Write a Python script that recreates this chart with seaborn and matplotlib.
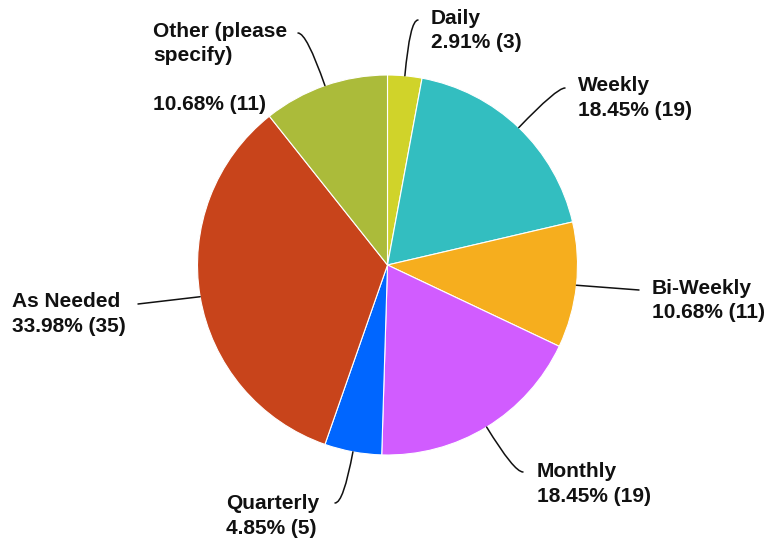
import matplotlib
matplotlib.use("Agg")
import matplotlib.pyplot as plt
import numpy as np
import seaborn as sns

categories = ["Daily", "Weekly", "Bi-Weekly", "Monthly", "Quarterly", "As Needed", "Other (please\nspecify)\n"]
counts = [3, 19, 11, 19, 5, 35, 11]
colors = ["#d0d32a", "#33bec0", "#f6ae1e", "#d15cff", "#0066ff", "#c8441b", "#abbb3a"]

W, H = 766, 542
CX, CY, R = 387.5, 265, 190
LINE_PX = 24.5

# label layout in pixels from the top-left corner:
# (text x, first baseline y, leader end x, leader end y, bend)
label_layout = [
    (431, 24, 418, 20, True),
    (578, 91, 565, 88, True),
    (652, 294, 639, 290, False),
    (537, 477, 523, 472, True),
    (226, 509, 335, 503, True),
    (12, 307, 138, 304, False),
    (153, 37, 298, 33, True),
]

sns.set_theme(style="white")
plt.rcParams["font.family"] = ["Liberation Sans", "DejaVu Sans"]

fig = plt.figure(figsize=(W / 100, H / 100), dpi=100)
ax = fig.add_axes([0, 0, 1, 1])

ax.pie(
    counts,
    colors=colors,
    startangle=90,
    counterclock=False,
    radius=R,
    center=(CX, H - CY),
    wedgeprops=dict(edgecolor="white", linewidth=0.8),
)
ax.set_xlim(0, W)
ax.set_ylim(0, H)
ax.set_aspect("equal")
ax.axis("off")

total = sum(counts)
cum = np.cumsum([0] + counts)
for i, (name, n) in enumerate(zip(categories, counts)):
    mid = 90 - (cum[i] + n / 2) / total * 360
    px = CX + R * np.cos(np.radians(mid))
    py = H - CY + R * np.sin(np.radians(mid))
    tx, ty, lx, ly, bend = label_layout[i]
    label = f"{name}\n{n / total * 100:.2f}% ({n})"
    last_base = ty + (label.count("\n")) * LINE_PX
    ax.text(tx, H - last_base, label,
            ha="left", va="baseline", fontsize=15, fontweight="bold",
            color="#111111", linespacing=1.37)
    style = f"angle3,angleA=0,angleB={mid:.1f}" if bend else "arc3,rad=0"
    ax.annotate("", xy=(px, py), xytext=(lx, H - ly),
                arrowprops=dict(arrowstyle="-", color="#111111", lw=1.1,
                                shrinkA=0, shrinkB=0, connectionstyle=style))

fig.savefig("out.png", dpi=100)
